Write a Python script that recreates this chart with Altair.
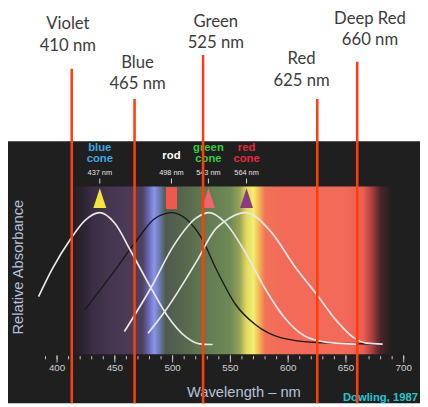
import altair as alt
import pandas as pd

# ---------------- data ----------------
# absorbance curves: wavelength (nm) and relative absorbance
rod_nm    = [424, 447, 469.6, 483.8, 499.3, 512, 525, 537.5, 554.5, 571.5, 594.1, 625.2, 679]
rod_abs   = [0.27, 0.53, 0.80, 0.95, 1.00, 0.95, 0.81, 0.58, 0.31, 0.16, 0.06, 0.025, 0.013]
blue_nm   = [384, 396, 411.6, 424, 437, 450, 463.9, 480.9, 495.1, 512.1, 523.3, 534.7]
blue_abs  = [0.37, 0.58, 0.80, 0.94, 1.00, 0.92, 0.71, 0.44, 0.23, 0.063, 0.015, 0.01]
green_nm  = [458.3, 480.9, 500.8, 520.5, 531.8, 546, 563, 580, 596.9, 613.9, 633.7, 659.2]
green_abs = [0.107, 0.43, 0.75, 0.96, 1.00, 0.92, 0.70, 0.43, 0.21, 0.075, 0.026, 0.013]
red_nm    = [478.7, 495.1, 514.9, 520.5, 537.5, 544.3, 563, 585.7, 605.4, 625.2, 642.2, 656.4, 667.7, 681.8]
red_abs   = [0.094, 0.28, 0.55, 0.63, 0.88, 0.93, 1.00, 0.85, 0.60, 0.38, 0.185, 0.063, 0.02, 0.013]

# pigment peak markers
pigments    = ["blue", "rod", "green", "red"]
marker_nm   = [437, 499, 531, 564]
cone_names  = ["blue\ncone", "rod", "green\ncone", "red\ncone"]
peak_labels = ["437 nm", "498 nm", "543 nm", "564 nm"]

# spectrum colour stops (wavelength, colour)
spec_nm  = [410, 414, 423, 431, 444, 461, 474, 479, 484, 489, 494, 508, 529, 550, 558,
            564, 570, 575, 580, 597, 648, 665, 672, 680, 690]
spec_col = ["#1f1e20", "#221e25", "#2e2434", "#3a2d45", "#45354f", "#4a3a56", "#4e405e",
            "#6466b0", "#8c94ec", "#6a78a8", "#4e5a50", "#56664c", "#627a52", "#6e8a56",
            "#98a258", "#e2da62", "#f4ee70", "#f2b454", "#f27258", "#f36a58", "#f46a5a",
            "#ec5e52", "#b04040", "#4a2428", "#1f1e20"]

# axis
tick_nm  = list(range(390, 710, 10))
label_nm = [400, 450, 500, 550, 600, 650, 700]

# LED overlay
led_names = ["Violet", "Blue", "Green", "Red", "Deep Red"]
led_nm    = [410, 465, 525, 625, 660]

# ---------------- styles / layout ----------------
W, H = 420, 399
FIG = alt.Scale(domain=[357.555, 714.09], nice=False, zero=False)
LED = alt.Scale(domain=[354.16, 714.98], nice=False, zero=False)
YS = alt.Scale(domain=[-0.4308, 2.5074], nice=False, zero=False)

marker_cols = ["#f2e63c", "#f0584e", "#f2646e", "#8c3c7c"]
name_cols   = ["#3aa8e4", "#ffffff", "#2fd03c", "#e8283c"]
tri  = "M0,-1L0.66,1L-0.66,1Z"
rect = "M-0.57,-1.12H0.57V1.12H-0.57Z"
led_top = [58, 89, 44, 89, 51]
led_dx  = [-4, 3, 13, -16, 13]
led_y1  = [13, 52, 10.3, 48.7, 7]     # centre of the first text line
AX_COL = "#b8c2dc"

one = pd.DataFrame({"k": [0]})
layers = []

# dark panel
layers.append(alt.Chart(one).mark_rect(color="#1f1f1f").encode(
    x=alt.value(0), x2=alt.value(W), y=alt.value(132), y2=alt.value(H)))

# spectrum band
s0, s1 = spec_nm[0], spec_nm[-1]
stops = [alt.GradientStop(color=c, offset=(n - s0) / (s1 - s0)) for n, c in zip(spec_nm, spec_col)]
layers.append(alt.Chart(pd.DataFrame({"a": [s0], "b": [s1]})).mark_rect(
    fill=alt.Gradient(gradient="linear", stops=stops, x1=0, x2=1, y1=0, y2=0)).encode(
    x=alt.X("a:Q", scale=FIG, axis=None), x2="b:Q", y=alt.value(178), y2=alt.value(349)))

# curves
rod_df = pd.DataFrame({"nm": rod_nm, "abs": rod_abs})
layers.append(alt.Chart(rod_df).mark_line(interpolate="monotone", strokeWidth=1.4, color="#1a1a1a").encode(
    x=alt.X("nm:Q", scale=FIG, axis=None), y=alt.Y("abs:Q", scale=YS, axis=None)))
for nms, vals in [(blue_nm, blue_abs), (green_nm, green_abs), (red_nm, red_abs)]:
    df = pd.DataFrame({"nm": nms, "abs": vals})
    layers.append(alt.Chart(df).mark_line(interpolate="monotone", strokeWidth=1.7, color="#e8e8e8").encode(
        x=alt.X("nm:Q", scale=FIG, axis=None), y=alt.Y("abs:Q", scale=YS, axis=None)))

# markers
mk = pd.DataFrame({"nm": marker_nm, "p": pigments, "name": cone_names, "lab": peak_labels})
layers.append(alt.Chart(mk).mark_point(filled=True, opacity=1, size=400, strokeWidth=0).encode(
    x=alt.X("nm:Q", scale=FIG, axis=None), y=alt.value(190),
    shape=alt.Shape("p:N", scale=alt.Scale(domain=pigments, range=[tri, rect, tri, tri]), legend=None),
    color=alt.Color("p:N", scale=alt.Scale(domain=pigments, range=marker_cols), legend=None)))
# small ticks under peak labels
layers.append(alt.Chart(mk).mark_rule(color="#dcdcdc", strokeWidth=1).encode(
    x=alt.X("nm:Q", scale=FIG, axis=None), y=alt.value(170), y2=alt.value(175)))
# peak labels
layers.append(alt.Chart(mk).mark_text(font="Liberation Sans", fontSize=7.5, color="#e4e4e4",
                                      baseline="middle").encode(
    x=alt.X("nm:Q", scale=FIG, axis=None), y=alt.value(164.3), text="lab:N"))
# pigment names (two-line ones, then the single-line "rod")
two_line = mk[mk["p"] != "rod"]
single = mk[mk["p"] == "rod"]
name_scale = alt.Scale(domain=pigments, range=name_cols)
layers.append(alt.Chart(two_line).mark_text(font="Liberation Sans", fontWeight="bold", fontSize=11.5,
                                            lineBreak="\n", lineHeight=10.7, baseline="middle").encode(
    x=alt.X("nm:Q", scale=FIG, axis=None), y=alt.value(139.3), text="name:N",
    color=alt.Color("p:N", scale=name_scale, legend=None)))
layers.append(alt.Chart(single).mark_text(font="Liberation Sans", fontWeight="bold", fontSize=11.5,
                                          baseline="middle").encode(
    x=alt.X("nm:Q", scale=FIG, axis=None), y=alt.value(146.7), text="name:N",
    color=alt.Color("p:N", scale=name_scale, legend=None)))

# axis ticks & labels
layers.append(alt.Chart(pd.DataFrame({"nm": tick_nm})).mark_rule(color="#c8c8c8", strokeWidth=1).encode(
    x=alt.X("nm:Q", scale=FIG, axis=None), y=alt.value(351), y2=alt.value(354.3)))
lab_df = pd.DataFrame({"nm": label_nm})
layers.append(alt.Chart(lab_df).mark_rule(color="#c8c8c8", strokeWidth=1).encode(
    x=alt.X("nm:Q", scale=FIG, axis=None), y=alt.value(350), y2=alt.value(357.5)))
layers.append(alt.Chart(lab_df).mark_text(font="Liberation Sans", fontSize=10, color="#cfcfcf",
                                          baseline="middle").encode(
    x=alt.X("nm:Q", scale=FIG, axis=None), y=alt.value(363), text="nm:Q"))

# titles
layers.append(alt.Chart(one).mark_text(text="Wavelength \u2013 nm", font="Liberation Sans", fontSize=15,
                                       color=AX_COL, baseline="middle").encode(
    x=alt.value(240.5), y=alt.value(388)))
layers.append(alt.Chart(one).mark_text(text="Relative Absorbance", font="Liberation Sans", fontSize=15,
                                       color=AX_COL, baseline="middle", angle=270).encode(
    x=alt.value(10.5), y=alt.value(260.3)))
layers.append(alt.Chart(one).mark_text(text="Dowling, 1987", font="Liberation Sans", fontSize=11.5,
                                       fontWeight="bold", color="#1ec8d4", baseline="middle",
                                       align="right").encode(
    x=alt.value(418), y=alt.value(393.7)))

# LED overlay lines and labels
for name, nm, top, dx, y1 in zip(led_names, led_nm, led_top, led_dx, led_y1):
    d = pd.DataFrame({"nm": [nm], "t": [f"{name}\n{nm} nm"]})
    layers.append(alt.Chart(d).mark_rule(color="#fc3f0c", strokeWidth=2.6).encode(
        x=alt.X("nm:Q", scale=LED, axis=None), y=alt.value(top), y2=alt.value(H)))
    layers.append(alt.Chart(d).mark_text(font="Lato", fontSize=17, lineBreak="\n", lineHeight=22,
                                         color="#3c3c3c", baseline="middle", dx=dx).encode(
        x=alt.X("nm:Q", scale=LED, axis=None), y=alt.value(y1), text="t:N"))

chart = alt.layer(*layers).resolve_scale(
    x="independent", color="independent", shape="independent"
).properties(
    width=W, height=H, padding=0, autosize=alt.AutoSizeParams(type="none"), background="white"
).configure_view(stroke=None)

chart.save("out.html", embed_options={"renderer": "svg", "actions": False})
